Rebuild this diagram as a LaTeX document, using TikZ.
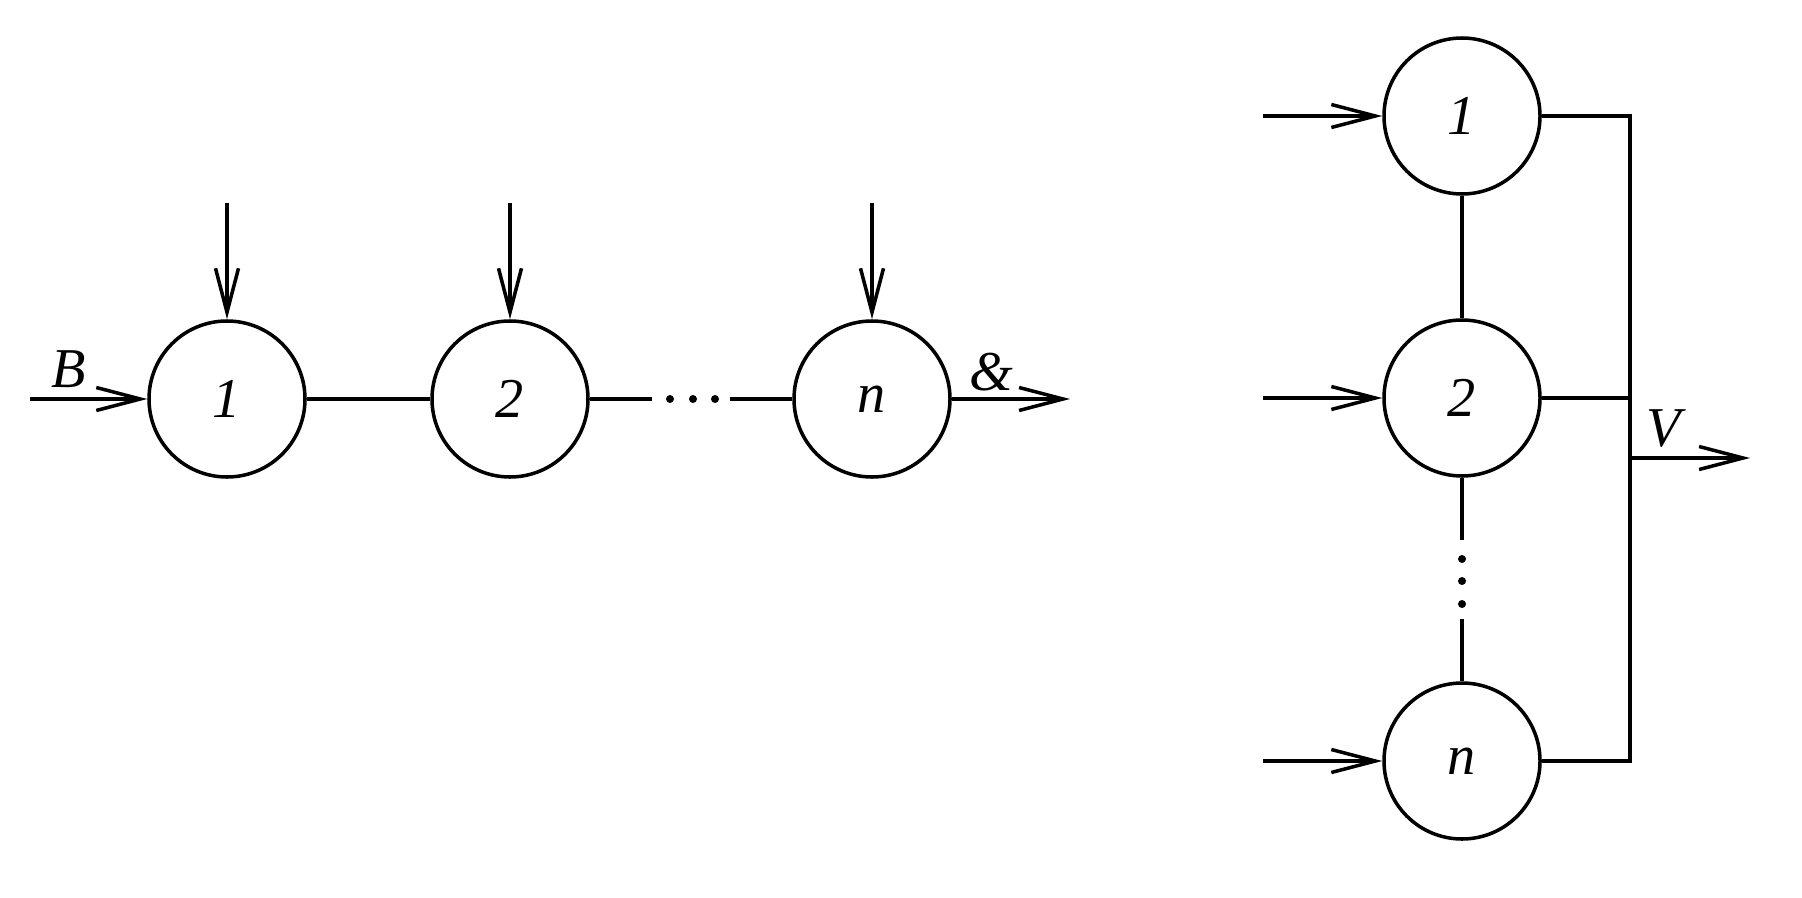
\documentclass[tikz,border=0pt]{standalone}
\usepackage{fontspec}
\setmainfont{Liberation Serif}
\usetikzlibrary{arrows.meta}

\begin{document}
\begin{tikzpicture}[line width=1pt,
    unit/.style={circle,draw,minimum size=1.56cm,inner sep=0pt,font=\fontsize{16}{16}\selectfont\itshape},
    lbl/.style={font=\fontsize{16}{16}\selectfont\itshape},
    feed/.style={-{Straight Barb[length=4.4mm,width=2.3mm]}},
    dot/.style={circle,fill,inner sep=0pt,minimum size=0.8mm}]
\useasboundingbox (0,0) rectangle (18.02,8.97);
% serial chain
\node[unit] (a1) at (2.27,4.98) {1};
\node[unit] (a2) at (5.10,4.98) {2};
\node[unit] (an) at (8.72,4.98) {n};
\coordinate (bin) at (0.30,4.98);
\coordinate (aout) at (10.70,4.98);
\coordinate (h0) at (6.52,4.98);
\coordinate (h4) at (7.30,4.98);
\foreach \x [count=\i] in {6.70,6.93,7.15}
    \node[dot] (h\i) at (\x,4.98) {};
\foreach \n in {a1,a2,an} {
    \path (\n.north) ++(0,1.16) coordinate (t\n);
    \draw[feed] (t\n) -- (\n);
}
\draw[feed] (bin) -- (a1);
\draw (a1) -- (a2);
\draw (a2) -- (h0);
\draw (h4) -- (an);
\draw[feed] (an) -- (aout);
\node[lbl] (lb) at (0.69,5.28) {B};
\node[lbl] (lamp) at (9.91,5.25) {\&};
% parallel block
\node[unit] (b1) at (14.62,7.81) {1};
\node[unit] (b2) at (14.62,4.99) {2};
\node[unit] (bn) at (14.62,1.36) {n};
\foreach \n in {b1,b2,bn} {
    \path (\n.west) ++(-1.19,0) coordinate (i\n);
    \draw[feed] (i\n) -- (\n);
}
\coordinate (v0) at (14.62,3.57);
\coordinate (v4) at (14.62,2.78);
\foreach \y [count=\i] in {3.38,3.16,2.93}
    \node[dot] (v\i) at (14.62,\y) {};
\draw (b1) -- (b2);
\draw (b2) -- (v0);
\draw (v4) -- (bn);
\coordinate (j1) at (16.30,7.81);
\coordinate (j2) at (16.30,4.99);
\coordinate (jn) at (16.30,1.36);
\coordinate (jo) at (16.30,4.39);
\coordinate (vout) at (17.50,4.39);
\draw (b1) -- (j1) -- (jn) -- (bn);
\draw (b2) -- (j2);
\draw[feed] (jo) -- (vout);
\node[lbl] (lv) at (16.64,4.68) {V};
\end{tikzpicture}
\end{document}
